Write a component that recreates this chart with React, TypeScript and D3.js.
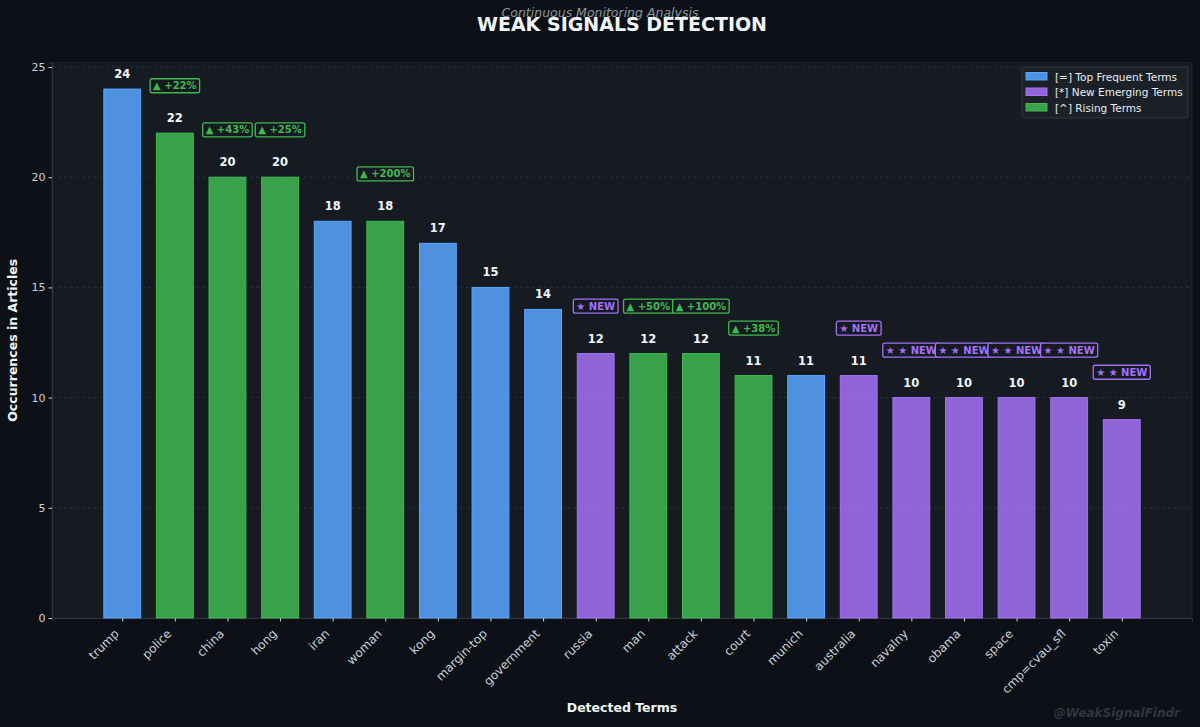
import { useEffect, useRef } from "react";
import * as d3 from "d3";

const terms = ["trump", "police", "china", "hong", "iran", "woman", "kong", "margin-top", "government", "russia", "man", "attack", "court", "munich", "australia", "navalny", "obama", "space", "cmp=cvau_sfl", "toxin"];
const counts = [24, 22, 20, 20, 18, 18, 17, 15, 14, 12, 12, 12, 11, 11, 11, 10, 10, 10, 10, 9];
const kinds = ["top", "rising", "rising", "rising", "top", "rising", "top", "top", "top", "new", "rising", "rising", "rising", "top", "new", "new", "new", "new", "new", "new"];
const badges = ["", "▲ +22%", "▲ +43%", "▲ +25%", "", "▲ +200%", "", "", "", "★ NEW", "▲ +50%", "▲ +100%", "▲ +38%", "", "★ NEW", "★ ★ NEW", "★ ★ NEW", "★ ★ NEW", "★ ★ NEW", "★ ★ NEW"];
const yTicks = [0, 5, 10, 15, 20, 25];
const legendItems = [
  { kind: "top", label: "[=] Top Frequent Terms" },
  { kind: "new", label: "[*] New Emerging Terms" },
  { kind: "rising", label: "[^] Rising Terms" },
];

const W = 1200;
const H = 727;
const margin = { top: 62.6, right: 8, bottom: 109, left: 52 };
const font = "DejaVu Sans, sans-serif";
const edge: Record<string, string> = { top: "#58a6ff", new: "#a371f7", rising: "#3fb950" };

const draw = (ref: SVGSVGElement) => {
  const svg = d3.select(ref);
  svg.selectAll("*").remove();

  const x = d3.scaleLinear().domain([-1.335, terms.length - 1 + 1.335]).range([margin.left, W - margin.right]);
  const y = d3.scaleLinear().domain([0, 25.2]).range([H - margin.bottom, margin.top]);
  const bw = x(0.7) - x(0);

  svg.append("rect").attr("width", W).attr("height", H).attr("fill", "#0d1117");
  svg.append("rect")
    .attr("x", margin.left).attr("y", margin.top)
    .attr("width", W - margin.left - margin.right).attr("height", H - margin.top - margin.bottom)
    .attr("fill", "#161b22").attr("stroke", "#21262d");

  // grid
  svg.append("g").selectAll("line").data(yTicks.slice(1)).enter().append("line")
    .attr("x1", margin.left).attr("x2", W - margin.right)
    .attr("y1", (d) => y(d)).attr("y2", (d) => y(d))
    .attr("stroke", "#2d333b").attr("stroke-dasharray", "3,3").attr("stroke-width", 0.8);

  // axes
  const yAxis = svg.append("g").attr("transform", `translate(${margin.left},0)`)
    .call(d3.axisLeft(y).tickValues(yTicks).tickSize(3.5).tickPadding(3));
  yAxis.select(".domain").attr("stroke", "#30363d");
  yAxis.selectAll(".tick line").attr("stroke", "#c9d1d9");
  yAxis.selectAll(".tick text").attr("fill", "#c9d1d9").style("font", `11px ${font}`);

  const xAxis = svg.append("g").attr("transform", `translate(0,${H - margin.bottom})`)
    .call(d3.axisBottom(x).tickValues(d3.range(terms.length)).tickSize(3.5).tickFormat(() => ""));
  xAxis.select(".domain").attr("stroke", "#30363d");
  xAxis.selectAll(".tick line").attr("stroke", "#c9d1d9");

  svg.append("g").selectAll("text").data(terms).enter().append("text")
    .text((d) => d)
    .attr("transform", (d, i) => `translate(${x(i) - 5},${H - margin.bottom + 14}) rotate(-45)`)
    .attr("text-anchor", "end")
    .attr("dominant-baseline", "middle")
    .attr("fill", "#c9d1d9")
    .style("font", `12px ${font}`);

  // bars
  svg.append("g").selectAll("rect").data(counts).enter().append("rect")
    .attr("x", (d, i) => x(i) - bw / 2)
    .attr("y", (d) => y(d))
    .attr("width", bw)
    .attr("height", (d) => y(0) - y(d))
    .attr("fill", (d, i) => edge[kinds[i]])
    .attr("fill-opacity", 0.85)
    .attr("stroke", (d, i) => edge[kinds[i]])
    .attr("stroke-width", 1);

  // value labels
  svg.append("g").selectAll("text").data(counts).enter().append("text")
    .text((d) => d)
    .attr("x", (d, i) => x(i))
    .attr("y", (d) => y(d + 0.5))
    .attr("text-anchor", "middle")
    .attr("fill", "#f0f6fc")
    .style("font", `bold 11.5px ${font}`);

  // badges
  badges.forEach((b, i) => {
    if (!b) return;
    const c = edge[kinds[i]];
    const g = svg.append("g").attr("transform", `translate(${x(i)},${y(counts[i] + 2.15)})`);
    const rect = g.append("rect").attr("fill", "#161b22").attr("stroke", c).attr("stroke-width", 1.3).attr("rx", 2);
    const t = g.append("text").text(b)
      .attr("text-anchor", "middle").attr("dominant-baseline", "central")
      .attr("fill", c).style("font", `bold 10px ${font}`);
    const bb = (t.node() as SVGTextElement).getBBox();
    rect.attr("x", -bb.width / 2 - 3).attr("y", -7).attr("width", bb.width + 6).attr("height", 14);
  });

  // legend
  const lg = svg.append("g").attr("transform", "translate(1022,67)");
  lg.append("rect").attr("width", 166).attr("height", 51).attr("rx", 2)
    .attr("fill", "#1c2128").attr("stroke", "#30363d");
  legendItems.forEach((it, i) => {
    const row = lg.append("g").attr("transform", `translate(0,${9.5 + i * 15.5})`);
    row.append("rect").attr("x", 4).attr("y", -4).attr("width", 21).attr("height", 7.5)
      .attr("fill", edge[it.kind]).attr("fill-opacity", 0.85).attr("stroke", edge[it.kind]);
    row.append("text").text(it.label).attr("x", 33).attr("dominant-baseline", "central")
      .attr("fill", "#e6edf3").style("font", `10.5px ${font}`);
  });

  // titles
  svg.append("text").text("Continuous Monitoring Analysis")
    .attr("x", 600).attr("y", 17).attr("text-anchor", "middle")
    .attr("fill", "#8b949e").style("font", `italic 12.5px ${font}`);
  svg.append("text").text("WEAK SIGNALS DETECTION")
    .attr("x", (margin.left + W - margin.right) / 2).attr("y", 31).attr("text-anchor", "middle")
    .attr("fill", "#f0f6fc").style("font", `bold 19px ${font}`);
  svg.append("text").text("Detected Terms")
    .attr("x", (margin.left + W - margin.right) / 2).attr("y", 712).attr("text-anchor", "middle")
    .attr("fill", "#f0f6fc").style("font", `bold 12.5px ${font}`);
  svg.append("text").text("Occurrences in Articles")
    .attr("transform", `translate(17,${(margin.top + H - margin.bottom) / 2}) rotate(-90)`)
    .attr("text-anchor", "middle")
    .attr("fill", "#f0f6fc").style("font", `bold 12.5px ${font}`);
  svg.append("text").text("@WeakSignalFindr")
    .attr("x", 1180).attr("y", 717).attr("text-anchor", "end")
    .attr("fill", "#30363d").style("font", `italic bold 12px ${font}`);
};

export default function App() {
  const ref = useRef<SVGSVGElement>(null);
  useEffect(() => {
    if (ref.current) draw(ref.current);
  }, []);
  return (
    <div style={{ position: "absolute", left: 0, top: 0 }}>
      <svg ref={ref} width={W} height={H} style={{ display: "block" }}></svg>
    </div>
  );
}
